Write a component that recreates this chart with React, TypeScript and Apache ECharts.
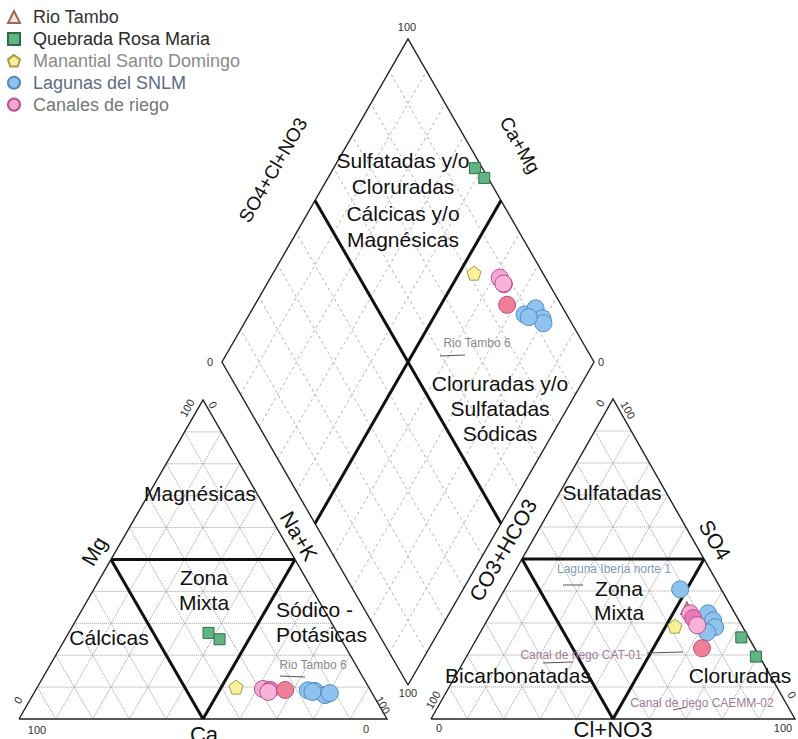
import React, { useEffect, useRef } from "react";
import * as echarts from "echarts";

// ---------------- DATA (percent, meq) ----------------
// cations: [Ca, Mg, Na+K] ; anions: [CO3+HCO3, SO4, Cl+NO3]
const seriesNames = [
  "Rio Tambo",
  "Quebrada Rosa Maria",
  "Manantial Santo Domingo",
  "Lagunas del SNLM",
  "Canales de riego",
];
const rioTamboCations = [[28.5, 9.8, 61.7]];
const rioTamboAnions = [[12.4, 34.6, 53.0]];
const quebradaCations = [
  [35, 27, 38],
  [33, 25, 42],
];
const quebradaAnions = [
  [2, 25.5, 72.5],
  [1, 19.5, 79.5],
];
const manantialCations = [[36, 10, 54]];
const manantialAnions = [[18.5, 29, 52.5]];
const lagunasCations = [
  [17, 9, 74],
  [15.2, 8.8, 76],
  [13.1, 7.5, 79.4],
  [11.5, 8.1, 80.4],
  [16, 8.5, 75.5],
];
const lagunasAnions = [
  [11.3, 40.5, 48.2],
  [7.4, 33, 59.6],
  [7.1, 30.8, 62.1],
  [7.6, 28.7, 63.7],
  [10.6, 27.1, 62.3],
];
const canalesCations = [
  [29, 9.4, 61.6],
  [27.2, 9.1, 63.7],
  [28, 8.5, 63.5],
  [23.1, 9.1, 67.8],
];
const canalesAnions = [
  [12.3, 33, 54.7],
  [12.2, 31.5, 56.3],
  [12.2, 29.3, 58.5],
  [14.5, 22.1, 63.4],
];
const gridSteps = [10, 20, 30, 40, 60, 70, 80, 90];
const divisionStep = [50];
const tickMin = "0";
const tickMax = "100";

// ---------------- LAYOUT ----------------
type Pt = [number, number];
const W = 798;
const H = 739;
const FONT = "'Liberation Sans', Arial, Helvetica, sans-serif";
// left (cation) triangle corners: Ca, Na+K, Mg
const LT = { a: [19, 719] as Pt, b: [387, 719] as Pt, c: [203, 400] as Pt };
// right (anion) triangle corners: CO3+HCO3, Cl+NO3, SO4
const RT = { a: [431, 719] as Pt, b: [795, 719] as Pt, c: [613, 399] as Pt };
// diamond
const DB: Pt = [408, 685];
const DL: Pt = [222, 362];
const DR: Pt = [594, 362];
const DT: Pt = [DL[0] + DR[0] - DB[0], DL[1] + DR[1] - DB[1]];

function tern(tri: { a: Pt; b: Pt; c: Pt }, wa: number, wb: number, wc: number): Pt {
  const s = wa + wb + wc;
  return [
    (tri.a[0] * wa + tri.b[0] * wb + tri.c[0] * wc) / s,
    (tri.a[1] * wa + tri.b[1] * wb + tri.c[1] * wc) / s,
  ];
}
const cationPt = (v: number[]): Pt => tern(LT, v[0], v[2], v[1]);
const anionPt = (v: number[]): Pt => tern(RT, v[0], v[2], v[1]);
function diamondPt(cat: number[], an: number[]): Pt {
  const c = cat[2] / (cat[0] + cat[1] + cat[2]);
  const a = (an[1] + an[2]) / (an[0] + an[1] + an[2]);
  return [
    DB[0] + (1 - c) * (DL[0] - DB[0]) + a * (DR[0] - DB[0]),
    DB[1] + (1 - c) * (DL[1] - DB[1]) + a * (DR[1] - DB[1]),
  ];
}
const mix = (p: Pt, q: Pt, f: number): Pt => [p[0] * f + q[0] * (1 - f), p[1] * f + q[1] * (1 - f)];
const add = (p: Pt, q: Pt, r: Pt, f: number): Pt => [p[0] + f * (q[0] - r[0]), p[1] + f * (q[1] - r[1])];

function triLines(tri: { a: Pt; b: Pt; c: Pt }, steps: number[]) {
  const out: { coords: Pt[] }[] = [];
  const cs = [tri.a, tri.b, tri.c];
  for (let i = 0; i < 3; i++) {
    const p = cs[i], q = cs[(i + 1) % 3], r = cs[(i + 2) % 3];
    steps.forEach((s) => {
      const f = s / 100;
      out.push({ coords: [mix(p, q, f), mix(p, r, f)] });
    });
  }
  return out;
}
function diaLines(steps: number[]) {
  const out: { coords: Pt[] }[] = [];
  steps.forEach((s) => {
    const f = s / 100;
    out.push({ coords: [add(DB, DR, DB, f), add(DL, DR, DB, f)] });
    out.push({ coords: [add(DB, DL, DB, f), add(DR, DL, DB, f)] });
  });
  return out;
}

function samplePoints(cats: number[][], ans: number[][], colors?: string[]) {
  const pts: any[] = [];
  cats.forEach((cat, i) => {
    const an = ans[i];
    const st = colors ? { itemStyle: { color: colors[i] } } : {};
    pts.push({ value: cationPt(cat), ...st });
    pts.push({ value: anionPt(an), ...st });
    pts.push({ value: diamondPt(cat, an), ...st });
  });
  return pts;
}

const PENTAGON = "path://M0,-10L9.51,-3.09L5.88,8.09L-5.88,8.09L-9.51,-3.09Z";

type TL = { t: string; x: number; y: number; r?: number; size?: number; color?: string; align?: string; lh?: number };
const regionLabels: TL[] = [
  { t: "Magnésicas", x: 200, y: 493 },
  { t: "Zona\nMixta", x: 204, y: 590, lh: 25 },
  { t: "Cálcicas", x: 109, y: 637 },
  { t: "Sódico -\nPotásicas", x: 276, y: 622, align: "left", lh: 25 },
  { t: "Sulfatadas", x: 612, y: 492 },
  { t: "Zona\nMixta", x: 619, y: 600, lh: 24 },
  { t: "Bicarbonatadas", x: 518, y: 675 },
  { t: "Cloruradas", x: 740, y: 675 },
  { t: "Sulfatadas y/o\nCloruradas\nCálcicas y/o\nMagnésicas", x: 403, y: 200, lh: 26.5 },
  { t: "Cloruradas y/o\nSulfatadas\nSódicas", x: 500, y: 408, lh: 25 },
];
const R60 = Math.PI / 3;
const axisLabels: TL[] = [
  { t: "Ca", x: 204, y: 734, size: 22 },
  { t: "Cl+NO3", x: 613, y: 729, size: 22 },
  { t: "Mg", x: 94, y: 551, r: R60 },
  { t: "Na+K", x: 299, y: 536, r: -R60 },
  { t: "SO4+Cl+NO3", x: 273, y: 170, r: R60, size: 19 },
  { t: "Ca+Mg", x: 520, y: 145, r: -R60, size: 19 },
  { t: "CO3+HCO3", x: 503, y: 550, r: R60 },
  { t: "SO4", x: 715, y: 540, r: -R60 },
];
const tickLabels: TL[] = [
  { t: tickMax, x: 407, y: 27 },
  { t: tickMin, x: 210, y: 362 },
  { t: tickMin, x: 601, y: 362 },
  { t: tickMax, x: 408, y: 693 },
  { t: tickMax, x: 37, y: 730 },
  { t: tickMin, x: 366, y: 729 },
  { t: tickMin, x: 18, y: 700, r: R60 },
  { t: tickMax, x: 187, y: 408, r: R60 },
  { t: tickMin, x: 213, y: 405, r: -R60 },
  { t: tickMax, x: 383, y: 705, r: -R60 },
  { t: tickMin, x: 439, y: 728 },
  { t: tickMax, x: 783, y: 728 },
  { t: tickMax, x: 433, y: 700, r: R60 },
  { t: tickMin, x: 600, y: 403, r: R60 },
  { t: tickMax, x: 628, y: 410, r: -R60 },
  { t: tickMin, x: 792, y: 695, r: -R60 },
];
const annotations: TL[] = [
  { t: "Rio Tambo 6", x: 313, y: 665, color: "#8a8a8a" },
  { t: "Rio Tambo 6", x: 477, y: 343, color: "#8a8a8a" },
  { t: "Laguna Iberia norte 1", x: 614, y: 569, color: "#7e9cb8" },
  { t: "Canal de riego CAT-01", x: 581, y: 655, color: "#a27c98" },
  { t: "Canal de riego CAEMM-02", x: 702, y: 703, color: "#a27c98" },
];
const leaders: [number, number, number, number][] = [
  [280, 676, 305, 677],
  [440, 356, 465, 355],
  [563, 585, 583, 585],
  [647, 653, 683, 652],
  [543, 663, 573, 662],
  [673, 710, 687, 707],
];

function textEl(l: TL, size: number, color: string) {
  const fs = l.size || size;
  return {
    type: "text",
    x: l.x,
    y: l.y,
    rotation: l.r || 0,
    z: 100,
    silent: true,
    style: {
      text: l.t,
      fontSize: fs,
      fontFamily: FONT,
      fill: l.color || color,
      align: l.align || "center",
      verticalAlign: "middle",
      lineHeight: l.lh || fs * 1.2,
    },
  };
}

export default function App() {
  const ref = useRef<HTMLDivElement>(null);
  useEffect(() => {
    if (!ref.current) return;
    const chart = echarts.init(ref.current, undefined, { renderer: "svg" });
    const gridData = [...triLines(LT, gridSteps), ...triLines(RT, gridSteps)];
    const diaGrid = diaLines(gridSteps);
    const thick = [...triLines(LT, divisionStep), ...triLines(RT, divisionStep), ...diaLines(divisionStep)];
    const outlines = [
      { coords: [LT.a, LT.b, LT.c, LT.a] },
      { coords: [RT.a, RT.b, RT.c, RT.a] },
      { coords: [DB, DR, DT, DL, DB] },
    ];
    const graphics: any[] = [
      ...regionLabels.map((l) => textEl(l, 21, "#111")),
      ...axisLabels.map((l) => textEl(l, 21, "#111")),
      ...tickLabels.map((l) => textEl(l, 11, "#333")),
      ...annotations.map((l) => textEl(l, 12, "#888")),
      ...leaders.map((s) => ({
        type: "line",
        z: 100,
        silent: true,
        shape: { x1: s[0], y1: s[1], x2: s[2], y2: s[3] },
        style: { stroke: "#555", lineWidth: 1 },
      })),
    ];
    const option: any = {
      animation: false,
      backgroundColor: "#ffffff",
      grid: { left: 0, top: 0, right: 0, bottom: 0, containLabel: false },
      xAxis: { type: "value", min: 0, max: W, show: false },
      yAxis: { type: "value", min: 0, max: H, inverse: true, show: false },
      legend: {
        orient: "vertical",
        left: 2,
        top: 3,
        itemWidth: 12,
        itemHeight: 12,
        itemGap: 3.9,
        selectedMode: false,
        textStyle: { fontSize: 18, fontFamily: FONT, padding: [0, 0, 0, 8] },
        data: [
          { name: seriesNames[0], textStyle: { color: "#333" } },
          { name: seriesNames[1], textStyle: { color: "#2a2a2a" } },
          { name: seriesNames[2], textStyle: { color: "#8a8a8a" } },
          { name: seriesNames[3], textStyle: { color: "#5d6c84" } },
          { name: seriesNames[4], textStyle: { color: "#777" } },
        ],
      },
      series: [
        {
          type: "lines",
          coordinateSystem: "cartesian2d",
          polyline: true,
          silent: true,
          z: 1,
          lineStyle: { color: "#9a9a9a", width: 1, type: "dotted", opacity: 1 },
          data: gridData,
        },
        {
          type: "lines",
          coordinateSystem: "cartesian2d",
          polyline: true,
          silent: true,
          z: 1,
          lineStyle: { color: "#b5b5b5", width: 1, type: [3, 3], opacity: 1 },
          data: diaGrid,
        },
        {
          type: "lines",
          coordinateSystem: "cartesian2d",
          polyline: true,
          silent: true,
          z: 2,
          lineStyle: { color: "#222", width: 1.4, opacity: 1 },
          data: outlines,
        },
        {
          type: "lines",
          coordinateSystem: "cartesian2d",
          polyline: true,
          silent: true,
          z: 3,
          lineStyle: { color: "#111", width: 3, opacity: 1 },
          data: thick,
        },
        {
          name: seriesNames[0],
          type: "scatter",
          z: 4,
          symbol: "triangle",
          symbolSize: 12,
          itemStyle: { color: "#f3e4dc", borderColor: "#9a6a58", borderWidth: 1.5, opacity: 1 },
          data: samplePoints(rioTamboCations, rioTamboAnions),
        },
        {
          name: seriesNames[1],
          type: "scatter",
          z: 5,
          symbol: "rect",
          symbolSize: 11,
          itemStyle: { color: "#62b583", borderColor: "#2d6f45", borderWidth: 1, opacity: 1 },
          data: samplePoints(quebradaCations, quebradaAnions),
        },
        {
          name: seriesNames[2],
          type: "scatter",
          z: 5,
          symbol: PENTAGON,
          symbolSize: 14,
          itemStyle: { color: "#f7f19a", borderColor: "#a89b45", borderWidth: 1, opacity: 1 },
          data: samplePoints(manantialCations, manantialAnions),
        },
        {
          name: seriesNames[3],
          type: "scatter",
          z: 5,
          symbol: "circle",
          symbolSize: 17,
          itemStyle: { color: "#8fc3ee", borderColor: "#4f8bc2", borderWidth: 1, opacity: 1 },
          data: samplePoints(lagunasCations, lagunasAnions),
        },
        {
          name: seriesNames[4],
          type: "scatter",
          z: 6,
          symbol: "circle",
          symbolSize: 17,
          itemStyle: { color: "#f5a6d4", borderColor: "#b8508c", borderWidth: 1, opacity: 1 },
          data: samplePoints(canalesCations, canalesAnions, ["#f5a6d4", "#e87ab8", "#f7b3da", "#ee7f96"]),
        },
      ],
      graphic: graphics,
    };
    chart.setOption(option);
    return () => chart.dispose();
  }, []);
  return (
    <div
      ref={ref}
      style={{ position: "absolute", left: 0, top: 0, width: W, height: H, background: "#fff" }}
    />
  );
}
